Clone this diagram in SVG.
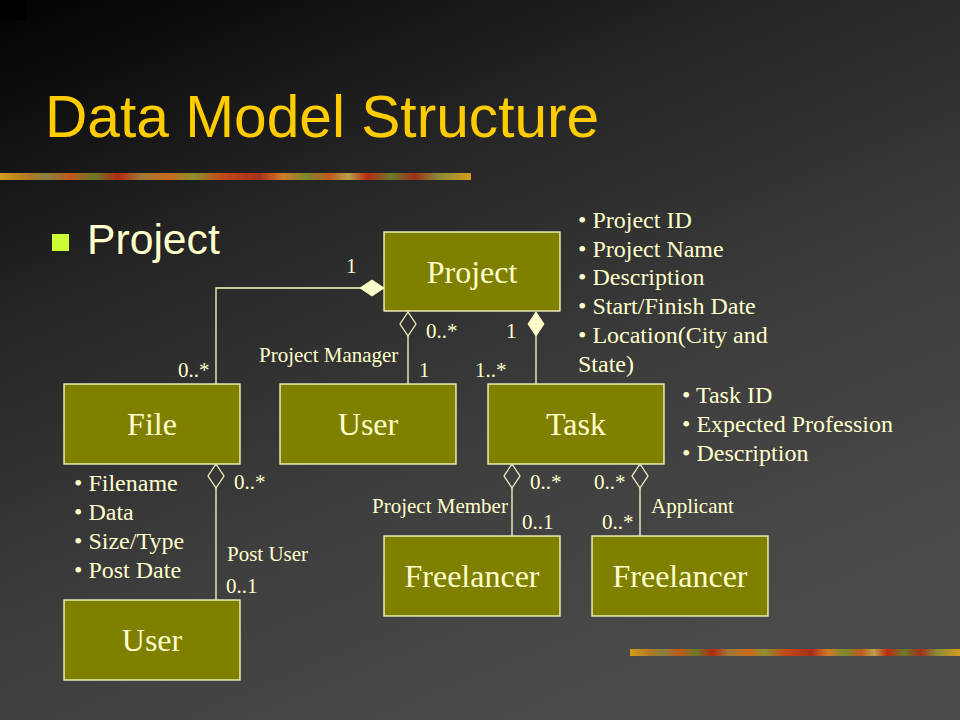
<svg xmlns="http://www.w3.org/2000/svg" width="960" height="720" viewBox="0 0 960 720">
  <defs>
    <linearGradient id="bg" x1="0" y1="0" x2="0.55" y2="1">
      <stop offset="0" stop-color="#020202"/>
      <stop offset="0.35" stop-color="#262626"/>
      <stop offset="0.7" stop-color="#3e3e3e"/>
      <stop offset="1" stop-color="#4a4a4a"/>
    </linearGradient>
    <linearGradient id="bar" x1="0" y1="0" x2="1" y2="0">
      <stop offset="0" stop-color="#d49a1c"/>
      <stop offset="0.06" stop-color="#b07a20"/>
      <stop offset="0.1" stop-color="#8a8040"/>
      <stop offset="0.15" stop-color="#c0581a"/>
      <stop offset="0.2" stop-color="#6a7a28"/>
      <stop offset="0.25" stop-color="#b02a12"/>
      <stop offset="0.3" stop-color="#a07838"/>
      <stop offset="0.36" stop-color="#c86a1a"/>
      <stop offset="0.41" stop-color="#8a9030"/>
      <stop offset="0.47" stop-color="#c44a18"/>
      <stop offset="0.55" stop-color="#a8301a"/>
      <stop offset="0.6" stop-color="#d07a28"/>
      <stop offset="0.65" stop-color="#7a8a30"/>
      <stop offset="0.7" stop-color="#c05a1c"/>
      <stop offset="0.74" stop-color="#b8a048"/>
      <stop offset="0.78" stop-color="#b82a14"/>
      <stop offset="0.83" stop-color="#6a7a28"/>
      <stop offset="0.88" stop-color="#a0301a"/>
      <stop offset="0.93" stop-color="#8a8a38"/>
      <stop offset="1" stop-color="#d49a1c"/>
    </linearGradient>
    <style>
      .node rect { fill: #808000; stroke: #FFFFCC; stroke-width: 1.3; }
      .node text { font-family: "Liberation Serif", "Times New Roman", serif; font-size: 32px; fill: #FFFFCC; text-anchor: middle; }
      .conn path { fill: none; stroke: #FFFFCC; stroke-width: 1.3; }
      .conn .filled { fill: #FFFFCC; stroke: #FFFFCC; stroke-width: 1; }
      .conn .hollow { fill: none; stroke: #FFFFCC; stroke-width: 1.2; }
      .lbl { font-family: "Liberation Serif", "Times New Roman", serif; font-size: 21px; fill: #FFFFCC; }
      .attr { font-family: "Liberation Serif", "Times New Roman", serif; font-size: 24px; fill: #FFFFCC; }
    </style>
  </defs>

  <rect x="0" y="0" width="960" height="720" fill="url(#bg)"/>
  <rect x="0" y="0" width="26" height="20" fill="#000"/>

  <text x="45" y="137" font-family="Liberation Sans, Arial, sans-serif" font-size="58.67" fill="#FFCC00">Data Model Structure</text>
  <rect x="0" y="173" width="471" height="7" fill="url(#bar)"/>
  <rect x="630" y="649" width="330" height="7" fill="url(#bar)"/>

  <rect x="52" y="234" width="17" height="17" fill="#CCFF33"/>
  <text x="87" y="254" font-family="Liberation Sans, Arial, sans-serif" font-size="42.67" fill="#FFFFCC">Project</text>

  <g id="connectors" class="conn">
    <path d="M216,384 V288 H360"/>
    <polygon class="filled" points="360,288 372,280 384,288 372,296"/>
    <path d="M408,336 V384"/>
    <polygon class="hollow" points="408,312 400,324 408,336 416,324"/>
    <path d="M536,336 V384"/>
    <polygon class="filled" points="536,312 528,324 536,336 544,324"/>
    <path d="M216,488 V600"/>
    <polygon class="hollow" points="216,464 208,476 216,488 224,476"/>
    <path d="M512,488 V536"/>
    <polygon class="hollow" points="512,464 504,476 512,488 520,476"/>
    <path d="M640,488 V536"/>
    <polygon class="hollow" points="640,464 632,476 640,488 648,476"/>
  </g>

  <g id="labels">
    <text class="lbl" x="346" y="273">1</text>
    <text class="lbl" x="426" y="338">0..*</text>
    <text class="lbl" x="506" y="338">1</text>
    <text class="lbl" x="259" y="362">Project Manager</text>
    <text class="lbl" x="419" y="377">1</text>
    <text class="lbl" x="475" y="377">1..*</text>
    <text class="lbl" x="178" y="377">0..*</text>
    <text class="lbl" x="234" y="489">0..*</text>
    <text class="lbl" x="227" y="561">Post User</text>
    <text class="lbl" x="226" y="593">0..1</text>
    <text class="lbl" x="372" y="513">Project Member</text>
    <text class="lbl" x="530" y="489">0..*</text>
    <text class="lbl" x="522" y="529">0..1</text>
    <text class="lbl" x="594" y="489">0..*</text>
    <text class="lbl" x="602" y="529">0..*</text>
    <text class="lbl" x="651" y="513">Applicant</text>
  </g>

  <g id="node-project" class="node">
    <rect x="384" y="232" width="176" height="79"/>
    <text x="472" y="283">Project</text>
  </g>
  <g id="node-file" class="node">
    <rect x="64" y="384" width="176" height="80"/>
    <text x="152" y="435">File</text>
  </g>
  <g id="node-user" class="node">
    <rect x="280" y="384" width="176" height="80"/>
    <text x="368" y="435">User</text>
  </g>
  <g id="node-task" class="node">
    <rect x="488" y="384" width="176" height="80"/>
    <text x="576" y="435">Task</text>
  </g>
  <g id="node-freelancer-member" class="node">
    <rect x="384" y="536" width="176" height="80"/>
    <text x="472" y="587">Freelancer</text>
  </g>
  <g id="node-freelancer-applicant" class="node">
    <rect x="592" y="536" width="176" height="80"/>
    <text x="680" y="587">Freelancer</text>
  </g>
  <g id="node-user-post" class="node">
    <rect x="64" y="600" width="176" height="80"/>
    <text x="152" y="651">User</text>
  </g>

  <g id="project-attrs">
    <text class="attr" x="578" y="228">• Project ID</text>
    <text class="attr" x="578" y="257">• Project Name</text>
    <text class="attr" x="578" y="285">• Description</text>
    <text class="attr" x="578" y="314">• Start/Finish Date</text>
    <text class="attr" x="578" y="343">• Location(City and</text>
    <text class="attr" x="578" y="372">State)</text>
  </g>
  <g id="task-attrs">
    <text class="attr" x="682" y="403">• Task ID</text>
    <text class="attr" x="682" y="432">• Expected Profession</text>
    <text class="attr" x="682" y="461">• Description</text>
  </g>
  <g id="file-attrs">
    <text class="attr" x="74" y="491">• Filename</text>
    <text class="attr" x="74" y="520">• Data</text>
    <text class="attr" x="74" y="549">• Size/Type</text>
    <text class="attr" x="74" y="578">• Post Date</text>
  </g>
</svg>
